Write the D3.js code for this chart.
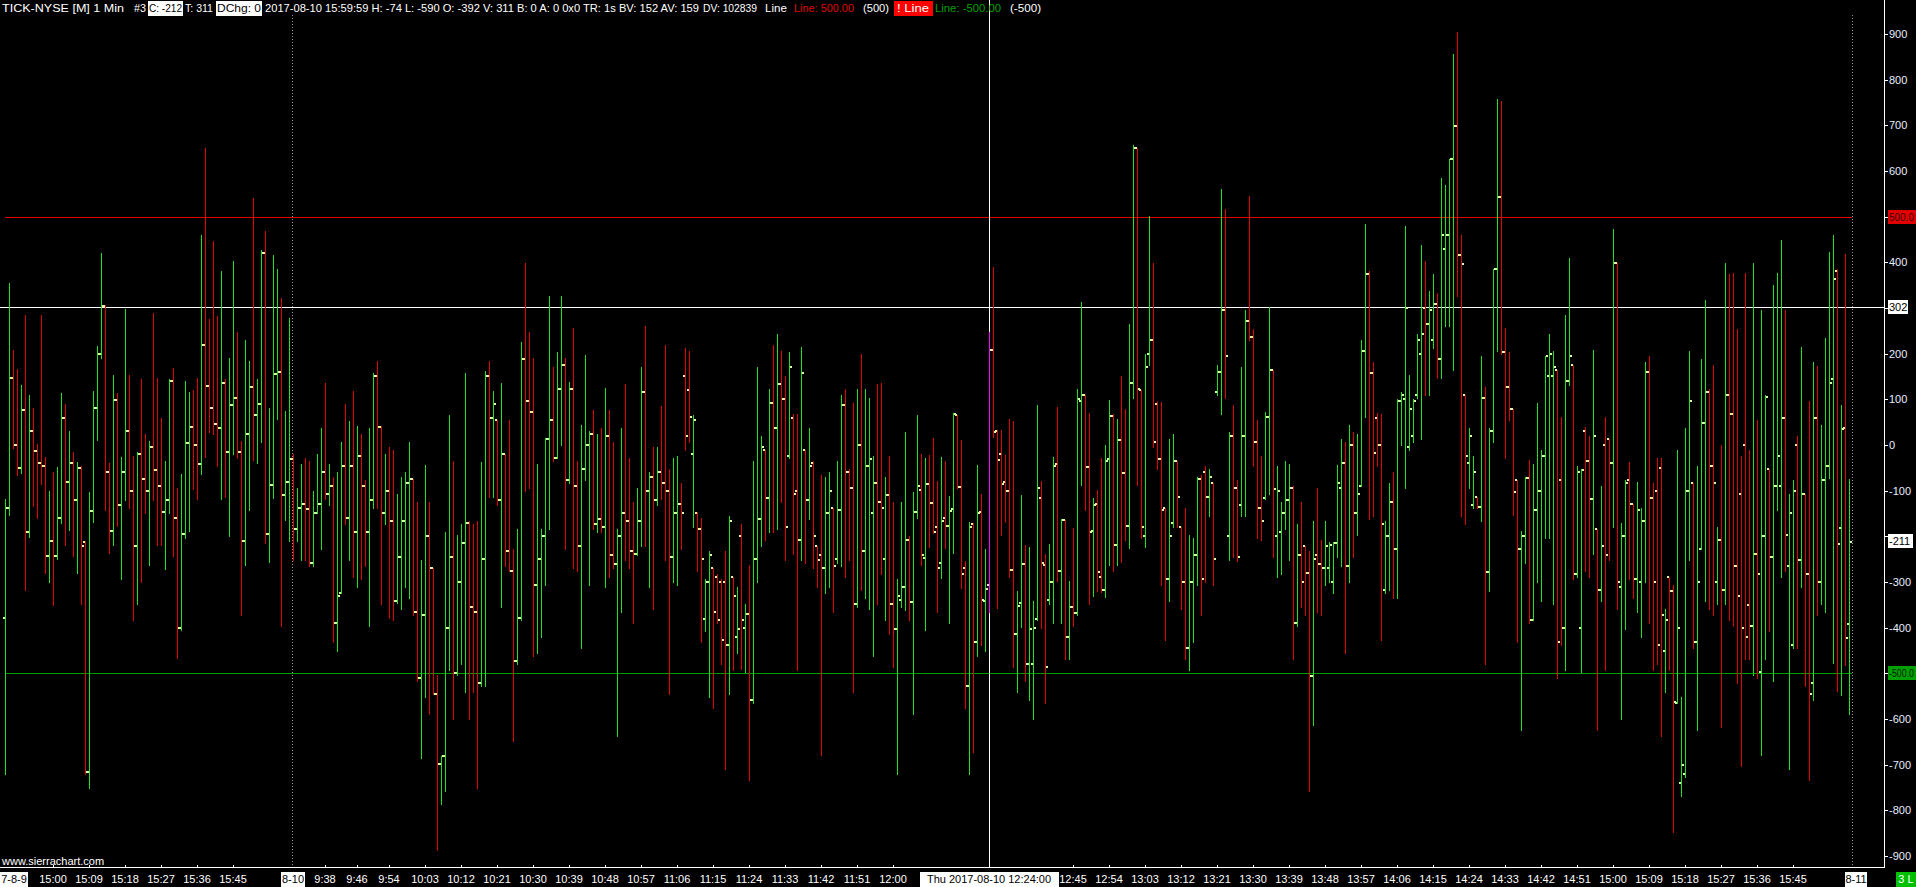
<!DOCTYPE html>
<html><head><meta charset="utf-8">
<script src="https://cdn.jsdelivr.net/npm/d3@7"></script>
<style>
html,body{margin:0;padding:0;background:#000;overflow:hidden}
svg{display:block}
text{font-family:"Liberation Sans",Arial,sans-serif;font-size:11px}
</style></head><body>
<svg id="c" width="1916" height="887"></svg>
<script>
// ---------------- data ----------------
const sessions = [
  {date: "8-9",  start: "14:48", bars: 72},
  {date: "8-10", start: "9:30",  bars: 390}
];
const highs = [
-119,354,208,166,131,284,109,80,2,285,
-27,-100,-59,-48,114,90,31,-15,-37,-45,
-210,-103,118,217,420,306,-39,153,113,-26,
298,153,-24,-15,144,24,9,289,147,59,
-35,144,168,-94,-64,140,116,120,147,459,
651,276,447,282,380,144,190,404,247,9,
230,184,540,144,426,468,81,416,386,322,
74,278,-20,-94,-41,-29,-35,-101,-19,37,
136,-41,-71,-59,7,89,52,118,41,25,
-77,37,158,184,41,-19,-5,-11,-107,-71,
-59,7,-75,-125,-252,-44,-125,-270,-504,-680,
-191,65,-35,-197,-173,158,-167,-173,-167,-37,
161,185,119,55,136,-19,55,-227,-185,225,
398,248,191,-41,-185,16,326,170,203,326,
191,138,257,-35,43,196,31,76,23,37,
124,76,7,-185,37,134,-29,-125,-95,170,
260,-59,-5,-5,85,218,-53,-29,-25,-83,
213,206,66,-146,-159,-293,-233,-270,-282,-294,
-233,-155,-288,-312,-173,-348,-263,-35,170,19,
-11,122,220,242,206,152,203,67,67,215,
-11,37,-35,-221,-65,-71,-59,-137,-35,110,
122,-53,91,122,200,122,104,-25,134,136,
-71,-23,-125,-294,-124,29,-199,-104,66,-20,
-28,-22,15,-79,-26,-36,-111,71,66,11,
-255,-169,-171,-44,-107,-228,248,390,33,33,
-22,58,52,-320,-109,-219,-223,-341,88,-79,
-238,-217,-26,83,-162,-164,-298,-182,123,314,
110,70,-116,-99,-29,0,99,67,57,150,
79,266,657,651,120,200,501,398,97,95,
-137,13,23,-35,-179,-137,-197,-203,-71,-65,
-47,-53,-83,176,561,516,28,88,-77,170,
296,545,254,55,-23,73,302,164,-47,-125,
-35,-41,-89,-173,-125,-221,-233,-167,-95,-209,
-167,-213,-213,-44,13,7,43,28,25,230,
483,380,182,70,67,-167,-83,-59,100,116,
479,154,100,242,437,404,338,374,332,585,
569,627,856,904,459,110,37,-23,-113,194,
128,37,386,757,753,257,203,79,-77,-189,
-71,-32,-41,91,-11,194,242,206,164,61,
284,410,176,-47,-53,40,19,208,-185,-89,
61,13,473,398,-170,-77,-37,-129,-81,-137,
182,194,-83,-29,-29,-360,-288,-306,-11,-552,
37,206,-83,-47,188,317,122,176,-179,1,
398,374,377,254,-23,377,-11,398,55,296,
110,-53,350,377,449,296,-107,-77,19,215,
-107,97,182,172,43,235,422,460,385,88,
418,-74];
const lows = [
-721,-153,-7,-66,-62,-317,-201,-134,-159,-85,
-281,-300,-351,-250,-170,-219,-186,-244,-281,-348,
-720,-751,-168,11,191,-142,-236,-220,-177,-293,
-120,-139,-384,-348,-300,-150,-263,-120,-219,-220,
-271,-148,-244,-466,-405,-204,-188,-96,-118,-63,
-26,29,24,-45,-118,-114,-199,-20,-28,-372,
-263,-142,-33,-40,7,-215,-256,-116,57,-396,
-164,-210,-252,-210,-252,-252,-264,-264,-149,-227,
-119,-131,-432,-450,-324,-173,-252,-288,-312,-294,
-264,-396,-137,-137,-348,-173,-378,-384,-345,-360,
-312,-336,-372,-516,-685,-552,-588,-546,-886,-787,
-757,-492,-600,-504,-480,-540,-600,-540,-751,-528,
-528,-113,-113,-131,-354,-264,-276,-649,-480,-384,
-101,-95,-462,-456,-420,-306,-185,-35,-29,1,
-227,-83,-270,-276,-444,-77,-306,-185,-191,-191,
-312,-288,-270,-637,-366,-252,-270,-390,-240,-221,
-221,-312,-360,-131,-119,-252,-546,-300,-306,-227,
-11,7,-179,-276,-432,-408,-552,-576,-390,-480,
-709,-546,-492,-456,-490,-498,-733,-564,-300,-221,
-209,-191,-191,-185,-125,-252,-29,-239,-492,-252,
-258,-161,-270,-312,-679,-324,-312,-366,-258,-264,
-288,-252,-540,-354,-318,-336,-360,-462,-348,-282,
-384,-414,-486,-721,-354,-361,-383,-588,-160,-263,
-405,-223,-193,-365,-292,-226,-389,-236,-95,-314,
-576,-721,-673,-462,-438,-450,-366,18,-357,-197,
-168,-288,-486,-540,-398,-516,-558,-600,-383,-401,
-564,-348,-390,-298,-389,-468,-468,-396,-372,-88,
-142,-349,-330,-320,-321,-332,-263,-276,-263,-257,
-208,-226,102,-88,-204,-223,176,-5,-53,-306,
-426,-342,-179,-179,-360,-468,-492,-432,-306,-372,
-300,-155,-306,110,67,104,-252,-245,-255,-155,
-155,230,-47,-203,-209,-119,-107,-245,-288,-282,
-185,-252,-468,-396,-354,-372,-757,-613,-366,-372,
-306,-300,-324,-245,-264,-456,-300,-245,-197,-89,
61,-161,-155,-47,-426,-324,-318,-336,-336,1,
-95,-11,7,104,13,110,110,212,146,146,
260,260,164,326,-155,-173,-95,-137,-137,-167,
-480,-320,7,206,200,-29,55,-153,-432,-625,
-258,-390,-384,-300,-342,-203,-203,-348,-510,-438,
-492,131,-294,-288,-498,-276,-288,-239,-625,-342,
-492,-252,-179,-360,-600,-402,-294,-336,-366,-420,
-300,-390,-492,-480,-637,-540,-492,-847,-564,-769,
-727,-252,-444,-625,-227,-342,-360,-372,-348,-618,
-348,-384,-396,-522,-703,-468,-468,-504,-510,-679,
-468,-408,-516,-143,-288,-276,-709,-444,-444,-312,
-528,-733,-558,-372,-348,-365,-72,-477,-538,-547,
-482,-590];
const opens = [
-378,-137,146,1,-51,76,-191,30,-14,-40,
-45,-243,-210,-243,-160,60,-80,-40,-120,-50,
-212,-715,-145,82,200,304,-60,-189,98,-132,
-60,30,-100,-222,-20,-75,-100,-5,-55,-90,
-147,-120,140,-160,-400,-194,5,40,0,-42,
220,130,80,45,38,135,-16,87,104,-16,
-211,23,126,65,90,420,-195,-88,155,160,
-110,-80,-30,-184,-139,-130,-140,-258,-149,-130,
-59,-107,-90,-390,-324,-47,-160,-47,-191,-23,
-90,-190,-120,152,40,-150,-100,-167,-342,-245,
-167,-83,-75,-366,-510,-372,-200,-270,-546,-699,
-680,-400,-245,-500,-300,-215,-170,-354,-366,-522,
-250,150,60,55,-120,-20,-233,-276,-474,-378,
188,97,73,-306,-250,-200,13,55,-29,122,
176,-77,122,-89,-221,-53,0,25,-173,-161,
-180,19,-240,-260,-200,-150,-167,-233,-239,-167,
116,-100,-70,-120,-60,-83,-100,-245,-150,-130,
150,120,-20,-150,-185,-380,-300,-270,-290,-300,
-300,-438,-290,-420,-200,-400,-370,-558,-250,-161,
-11,-117,92,37,134,100,-25,60,-100,-209,
-11,-120,-40,-221,-240,-270,-150,-137,-250,-143,
88,-59,-95,-348,0,-233,-47,-150,-83,-125,
-250,-110,-348,-402,-340,-312,-209,-344,-147,-98,
-248,-86,-126,-179,-259,-160,-177,-141,66,-93,
-270,-528,-174,-432,-147,-342,-306,208,30,-20,
-80,-100,-274,-414,-347,-261,-480,-480,-380,-115,
-263,-340,-299,-42,-277,-165,-420,-355,-368,96,
109,-49,-189,-130,-290,-318,-31,63,-220,10,
-62,-177,136,650,120,-200,200,230,90,-30,
-137,-294,-170,-35,-179,-300,-444,-300,-240,-75,
-60,-113,-83,115,160,296,-200,19,-95,-131,
20,272,236,7,-137,-115,61,164,-200,-191,
-150,-120,-95,-390,-240,-221,-280,-506,-240,-260,
-270,-270,-300,-215,-95,-40,-266,1,-149,-89,
206,374,158,60,0,-318,-200,-125,-227,97,
100,-5,20,110,200,300,266,230,308,188,
430,459,627,699,416,110,-40,-131,-113,-135,
104,-278,31,386,543,204,128,79,-77,-227,
-200,-73,-384,-143,-100,-23,150,152,164,-77,
-400,140,176,-282,-400,30,-35,-119,-185,-318,
0,13,-40,398,-312,-200,-77,-130,-294,-300,
-167,160,-117,-100,-50,-450,-290,-320,-564,-740,
-721,-100,-83,-432,-227,49,116,-47,-300,-209,
-318,110,67,-264,-107,0,-350,-396,-239,-498,
-200,-53,-245,-89,-89,60,-264,-438,0,-252,
-107,-282,-522,60,-300,-77,-45,144,380,-182,
37,-392];
const closes = [
-137,146,1,-51,76,-191,30,-14,-40,-45,
-243,-210,-243,-160,60,-80,-40,-120,-50,-221,
-715,-145,82,200,304,-60,-189,98,-132,-60,
30,-100,-222,-20,-75,-100,-5,-55,-90,-147,
-120,140,-160,-400,-194,5,40,0,-42,220,
130,80,45,38,135,-16,87,104,-16,-211,
23,126,65,90,420,-195,-88,155,160,-110,
-80,-30,-184,-139,-130,-140,-258,-150,-130,-59,
-107,-90,-390,-330,-47,-160,-47,-191,-23,-90,
-190,-120,152,40,-150,-100,-167,-342,-245,-167,
-83,-75,-366,-510,-372,-200,-270,-546,-699,-680,
-400,-245,-500,-300,-215,-170,-354,-366,-522,-250,
150,60,90,-120,-20,-233,-276,-474,-378,188,
97,73,-306,-250,-200,13,55,-29,122,176,
-77,122,-89,-221,-53,0,25,-173,-161,-180,
19,-240,-260,-200,-150,-167,-233,-239,-167,116,
-100,-70,-120,-60,-83,-100,-245,-150,-130,-150,
20,61,55,-185,-250,-300,-240,-366,-384,-426,
-438,-167,-330,-402,-384,-370,-558,-250,-161,-5,
-117,92,37,134,100,-179,170,-107,-209,158,
-120,-45,-200,-252,-270,-150,-100,-264,-143,88,
-59,-95,-348,0,-233,-47,-30,-83,-125,-137,
-110,-348,-402,-330,-312,-209,-344,-147,-90,-241,
-86,-128,-190,-270,-166,-177,-145,67,-93,-282,
-528,-179,-432,-150,-340,-316,208,28,-33,-86,
-100,-274,-414,-353,-261,-480,-402,-400,-95,-259,
-486,-299,-47,-277,-165,-420,-355,-368,100,109,
-49,-191,-132,-279,-318,-34,63,-220,10,-62,
-178,136,650,122,-180,170,230,7,-30,-143,
-294,-200,-35,-113,-300,-444,-300,-240,-75,-294,
-113,-70,-250,160,296,194,19,-95,-245,20,
272,236,7,-137,-167,61,164,-97,-100,-150,
-120,-95,-390,-240,-300,-280,-506,-250,-260,-270,
-221,-220,-215,-83,-40,-266,1,-149,-107,206,
374,158,-17,0,-173,-200,-125,-227,97,110,
300,79,97,230,242,266,296,308,188,459,
459,627,699,416,396,-23,20,-60,-135,104,
-278,31,386,543,204,128,79,-103,-227,-200,
-73,-384,-143,-100,-23,194,200,170,-432,-400,
140,194,-282,-59,-55,-35,-119,19,-318,-221,
-240,-40,398,-300,-200,-83,-130,-294,-143,-167,
160,-117,-300,-438,-372,-384,-320,-562,-400,-700,
-100,97,-432,-300,49,116,-47,-83,-209,-318,
110,67,-264,-330,-400,-420,-396,-239,-282,-200,
105,-245,-89,-23,60,-197,-150,-100,-252,-107,
-282,-546,60,-300,-77,-45,135,364,-217,35,
-423,-212];
const yTickValues = [900,800,700,600,500,400,300,200,100,0,-100,-200,-300,-400,-500,-600,-700,-800,-900];
const timeLabels = [
  {date:"8-9",  times:["15:00","15:09","15:18","15:27","15:36","15:45"]},
  {date:"8-10", times:["9:38","9:46","9:54","10:03","10:12","10:21","10:30","10:39","10:48","10:57","11:06","11:15","11:24","11:33","11:42","11:51","12:00","12:45","12:54","13:03","13:12","13:21","13:30","13:39","13:48","13:57","14:06","14:15","14:24","14:33","14:42","14:51","15:00","15:09","15:18","15:27","15:36","15:45"]}
];
const dateLabels = ["7-8-9","8-10","8-11"];
const refLines = [{value:500, color:"#e00000", label:"500.0", text:"#400000"},
                  {value:-500, color:"#00a000", label:"-500.0", text:"#002000"}];
const crosshair = {bar:"Thu 2017-08-10  12:24:00", barIndex:246, value:302};
const lastPriceLabel = -211;
const header = [
  {t:"TICK-NYSE [M]  1 Min", x0:2, x1:124, c:"#fff"},
  {t:"#3", x0:134, x1:146, c:"#fff"},
  {t:"C: -212", x0:149, x1:182, c:"#000", bg:"#fff", b0:148, b1:183},
  {t:"T: 311", x0:185, x1:213, c:"#fff"},
  {t:"DChg: 0", x0:217, x1:261, c:"#000", bg:"#fff", b0:216, b1:262},
  {t:"2017-08-10 15:59:59 H: -74 L: -590 O: -392 V: 311 B: 0 A: 0 0x0 TR: 1s BV: 152 AV: 159", x0:265, x1:699, c:"#fff"},
  {t:"DV: 102839", x0:703, x1:757, c:"#fff"},
  {t:"Line", x0:765, x1:787, c:"#fff"},
  {t:"Line: 500.00", x0:794, x1:854, c:"#e00000"},
  {t:"(500)", x0:863, x1:889, c:"#fff"},
  {t:"!  Line", x0:897, x1:929, c:"#fff", bg:"#ff0000", b0:894, b1:933},
  {t:"Line: -500.00", x0:935, x1:1001, c:"#00a000"},
  {t:"(-500)", x0:1010, x1:1041, c:"#fff"}
];

// ---------------- drawing ----------------
const svg = d3.select("#c");
const W = 1916, H = 887;
const nBars = highs.length;
const plotRight = 1884, plotBottom = 867;
svg.append("rect").attr("width",W).attr("height",H).attr("fill","#000");

const x = d3.scaleLinear().domain([0, nBars-1]).range([5, 5 + 4*(nBars-1)]);
const y = d3.scaleLinear().domain([-900, 900]).range([856, 34]);
const py = v => Math.round(y(v));

function barIndex(date, time){
  let off = 0;
  for (const s of sessions){
    if (s.date === date){
      const [h,m] = time.split(":").map(Number);
      const [sh,sm] = s.start.split(":").map(Number);
      return off + (h*60+m) - (sh*60+sm);
    }
    off += s.bars;
  }
  return -1;
}

const g = svg.append("g").attr("shape-rendering","crispEdges");

// session separators (dotted)
const sep = [x(sessions[0].bars) - 1, x(nBars-1) + 3];
sep.forEach(sx=>{
  g.append("line").attr("x1",sx+0.5).attr("x2",sx+0.5)
   .attr("y1", 15).attr("y2", plotBottom)
   .attr("stroke","#9a9a9a").attr("stroke-dasharray","1,2");
});

// reference lines
refLines.forEach(r=>{
  g.append("line").attr("x1",5).attr("x2",sep[1]).attr("y1",py(r.value)+0.5).attr("y2",py(r.value)+0.5)
   .attr("stroke",r.color);
});

// crosshair
const chX = x(crosshair.barIndex);
g.append("line").attr("x1",chX+0.5).attr("x2",chX+0.5).attr("y1",0).attr("y2",plotBottom).attr("stroke","#fff");
g.append("line").attr("x1",0).attr("x2",plotRight).attr("y1",py(crosshair.value)+0.5).attr("y2",py(crosshair.value)+0.5).attr("stroke","#fff");

// bars (HLC with open/close ticks)
const idx = d3.range(nBars);
const colorOf = i => i === crosshair.barIndex ? "#ff00ff" : (closes[i] >= opens[i] ? "#22e022" : "#e00000");
g.selectAll("rect.bar").data(idx).join("rect").attr("class","bar")
  .attr("x", i => x(i)).attr("width",1)
  .attr("y", i => py(highs[i])).attr("height", i => Math.max(1, py(lows[i]) - py(highs[i]) + 1))
  .attr("fill", colorOf);
const tickCol = "#d8ffa8";
g.selectAll("rect.op").data(idx).join("rect").attr("class","op")
  .attr("x", i => x(i)-2).attr("y", i => py(opens[i])-1).attr("width",2).attr("height",2).attr("fill",tickCol);
g.selectAll("rect.cl").data(idx).join("rect").attr("class","cl")
  .attr("x", i => x(i)+1).attr("y", i => py(closes[i])-1).attr("width",2).attr("height",2).attr("fill",tickCol);

// axes frame
g.append("line").attr("x1",plotRight+0.5).attr("x2",plotRight+0.5).attr("y1",0).attr("y2",plotBottom+1).attr("stroke","#fff");
g.append("line").attr("x1",0).attr("x2",plotRight+1).attr("y1",plotBottom+0.5).attr("y2",plotBottom+0.5).attr("stroke","#fff");

// right axis ticks and labels (labels hidden behind value boxes are skipped)
const hiddenY = new Set([500, 300, -200, -500]);
const yAxis = svg.append("g");
yTickValues.forEach(v=>{
  const yy = py(v);
  yAxis.append("line").attr("x1",plotRight+1).attr("x2",plotRight+4).attr("y1",yy+0.5).attr("y2",yy+0.5)
    .attr("stroke","#fff").attr("shape-rendering","crispEdges");
  if (!hiddenY.has(v))
    yAxis.append("text").attr("x",plotRight+5).attr("y",yy+4).attr("fill","#e8eeff").text(String(v));
});
function yBox(v, label, bg, fg, w, tl, fs){
  const yy = py(v);
  yAxis.append("rect").attr("x",plotRight+4).attr("y",yy-7).attr("width",w).attr("height",14).attr("fill",bg);
  const t = yAxis.append("text").attr("x",plotRight+5).attr("y",yy+4).attr("fill",fg).text(label);
  if (tl) t.attr("textLength", tl).attr("lengthAdjust","spacingAndGlyphs");
  if (fs) t.style("font-size", fs + "px");
}
yBox(refLines[0].value, refLines[0].label, refLines[0].color, refLines[0].text, 40, 25, 11);
yBox(refLines[1].value, refLines[1].label, refLines[1].color, refLines[1].text, 40, 25, 10);
yBox(crosshair.value, String(crosshair.value), "#fff", "#000", 20);
yBox(lastPriceLabel, String(lastPriceLabel), "#fff", "#000", 25);

// bottom axis labels
const xAxis = svg.append("g");
const labY = 883;
timeLabels.forEach(s=>{
  s.times.forEach(t=>{
    const xi = x(barIndex(s.date, t));
    xAxis.append("line").attr("x1",xi+0.5).attr("x2",xi+0.5).attr("y1",plotBottom-2).attr("y2",plotBottom)
      .attr("stroke","#fff").attr("shape-rendering","crispEdges");
    xAxis.append("text").attr("x",xi).attr("y",labY).attr("text-anchor","middle").attr("fill","#fff").text(t);
  });
});
function xBox(cx, label, w, bg, fg){
  xAxis.append("rect").attr("x",Math.round(cx - w/2)).attr("y",plotBottom+5).attr("width",w).attr("height",15).attr("fill",bg);
  xAxis.append("text").attr("x",cx).attr("y",labY).attr("text-anchor","middle").attr("fill",fg).text(label);
}
xBox(14, dateLabels[0], 28, "#fff", "#000");
xBox(x(sessions[0].bars), dateLabels[1], 24, "#fff", "#000");
xBox(sep[1]+4, dateLabels[2], 22, "#fff", "#000");
xBox(chX, crosshair.bar, 139, "#fff", "#000");
xAxis.append("rect").attr("x",1896).attr("y",plotBottom+5).attr("width",20).attr("height",16).attr("fill","#00c000");
xAxis.append("text").attr("x",1906).attr("y",labY).attr("text-anchor","middle").attr("fill","#fff").text("3 L");

svg.append("text").attr("x",2).attr("y",865).attr("fill","#fff").text("www.sierrachart.com");

// header
const hd = svg.append("g");
header.forEach(h=>{
  if (h.bg) hd.append("rect").attr("x",h.b0).attr("y",1).attr("width",h.b1-h.b0).attr("height",15).attr("fill",h.bg);
  hd.append("text").attr("x",h.x0).attr("y",12).attr("fill",h.c)
    .attr("textLength",h.x1-h.x0).attr("lengthAdjust","spacingAndGlyphs").text(h.t);
});
</script>
</body></html>
